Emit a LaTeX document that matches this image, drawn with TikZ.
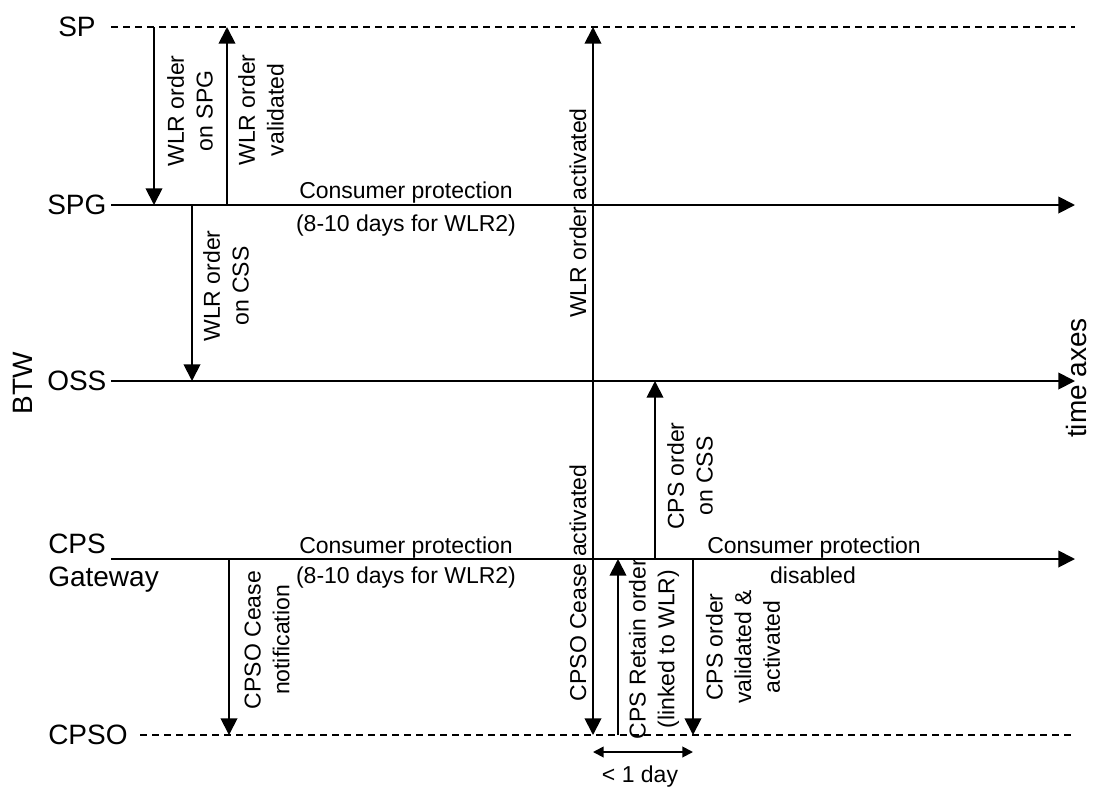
\documentclass[tikz,border=0pt]{standalone}
\usepackage{fontspec}
\setmainfont{Liberation Sans}
\usetikzlibrary{arrows.meta}
\begin{document}
\begin{tikzpicture}[x=0.75pt,y=-0.75pt,
  lane/.style={line width=1.4pt},
  dashlane/.style={line width=1.1pt,dash pattern=on 5.5pt off 3.5pt},
  tip/.style={-{Triangle[length=12.5pt,width=12.5pt]}},
  msg/.style={line width=1.4pt,-{Triangle[length=12.5pt,width=12.5pt]}},
  span/.style={line width=1.4pt,{Triangle[length=8pt,width=8pt]}-{Triangle[length=8pt,width=8pt]}},
  big/.style={font=\fontsize{21}{24.75}\selectfont,inner sep=0pt},
  small/.style={font=\fontsize{17.25}{21.5}\selectfont,inner sep=0pt},
  vlab/.style={small,rotate=90,align=center}]
\useasboundingbox (0,0) rectangle (1093,786);
% lane end points
\coordinate (sp-s) at (111,27);   \coordinate (sp-e) at (1075,27);
\coordinate (spg-s) at (111,205); \coordinate (spg-e) at (1075,205);
\coordinate (oss-s) at (111,381); \coordinate (oss-e) at (1075,381);
\coordinate (cps-s) at (111,559); \coordinate (cps-e) at (1075,559);
\coordinate (cpso-s) at (140,735); \coordinate (cpso-e) at (1075,735);
% lanes
\draw[dashlane] (sp-s) -- (sp-e);
\draw[lane,tip] (spg-s) -- (spg-e);
\draw[lane,tip] (oss-s) -- (oss-e);
\draw[lane,tip] (cps-s) -- (cps-e);
\draw[dashlane] (cpso-s) -- (cpso-e);
% lane labels
\node[big,anchor=west] (lsp) at (58,27) {SP};
\node[big,anchor=west] (lspg) at (47,205) {SPG};
\node[big,anchor=west] (loss) at (47,381) {OSS};
\node[big,anchor=north west,align=left] (lcps) at (48,534) {CPS\\Gateway};
\node[big,anchor=west] (lcpso) at (48,735) {CPSO};
\node[big,rotate=90] (btw) at (23,383) {BTW};
\node[big,rotate=90] (time) at (1076,378) {time axes};
% texts on lanes
\node[small,anchor=base] (cp1) at (406,198) {Consumer protection};
\node[small,anchor=base] (cp1b) at (406,231) {(8-10 days for WLR2)};
\node[small,anchor=base] (cp2) at (406,553) {Consumer protection};
\node[small,anchor=base] (cp2b) at (406,583) {(8-10 days for WLR2)};
\node[small,anchor=base] (cp3) at (814,553) {Consumer protection};
\node[small,anchor=base] (cp3b) at (813,583) {disabled};
% message end points
\coordinate (m1a) at (154,27);  \coordinate (m1b) at (154,205);
\coordinate (m2a) at (227,205); \coordinate (m2b) at (227,27);
\coordinate (m3a) at (192,205); \coordinate (m3b) at (192,381);
\coordinate (m4o) at (593,381); \coordinate (m4a) at (593,27); \coordinate (m4b) at (593,735);
\coordinate (m5a) at (655,559); \coordinate (m5b) at (655,381);
\coordinate (m6a) at (618,735); \coordinate (m6b) at (618,559);
\coordinate (m7a) at (693,559); \coordinate (m7b) at (693,735);
\coordinate (m8a) at (229,559); \coordinate (m8b) at (229,735);
\coordinate (d1) at (593,752);  \coordinate (d2) at (693,752);
% messages
\draw[msg] (m1a) -- (m1b);
\draw[msg] (m2a) -- (m2b);
\draw[msg] (m3a) -- (m3b);
\draw[msg] (m4o) -- (m4a);
\draw[msg] (m4o) -- (m4b);
\draw[msg] (m5a) -- (m5b);
\draw[msg] (m6a) -- (m6b);
\draw[msg] (m7a) -- (m7b);
\draw[msg] (m8a) -- (m8b);
\draw[span] (d1) -- (d2);
% message labels
\node[vlab] (t1) at (190,111) {WLR order\\on SPG};
\node[vlab] (t2) at (261,110) {WLR order\\validated};
\node[vlab] (t3) at (226,286) {WLR order\\on CSS};
\node[vlab] (t4) at (578,213) {WLR order activated};
\node[vlab] (t4b) at (578,583) {CPSO Cease activated};
\node[vlab] (t5) at (690,476) {CPS order\\on CSS};
\node[vlab] (t6) at (654,649) {CPS Retain order\\(linked to WLR)};
\node[vlab] (t7) at (743,647) {CPS order\\validated \&\\activated};
\node[vlab] (t8) at (267,640) {CPSO Cease\\notification};
\node[small] (t9) at (640,777) {< 1 day};
\end{tikzpicture}
\end{document}
